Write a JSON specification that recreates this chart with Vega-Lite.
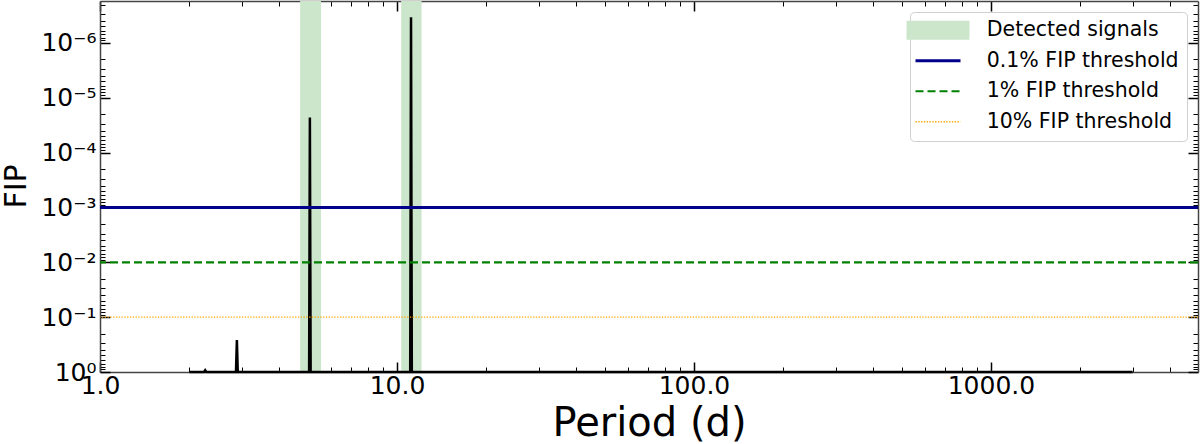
{
  "$schema": "https://vega.github.io/schema/vega-lite/v6.json",
  "width": 1098,
  "height": 371,
  "autosize": {"type": "none"},
  "padding": {"left": 100, "top": 1, "right": 2, "bottom": 72},
  "background": "white",
  "config": {
    "font": "DejaVu Sans",
    "view": {"stroke": null},
    "axis": {
      "labelFont": "DejaVu Sans",
      "titleFont": "DejaVu Sans",
      "labelColor": "black",
      "titleColor": "black",
      "titleFontWeight": "normal",
      "tickColor": "black",
      "domainColor": "#444444",
      "domainWidth": 1.5,
      "grid": false,
      "labelFlush": false,
      "labelOverlap": false,
      "labelFontSize": 25
    },
    "legend": {
      "orient": "top-right",
      "offset": 11,
      "fillColor": "white",
      "strokeColor": "#d0d0d0",
      "cornerRadius": 4,
      "padding": 8,
      "labelFont": "DejaVu Sans",
      "labelFontSize": 20.5,
      "labelColor": "black",
      "symbolSize": 400,
      "symbolStrokeWidth": 1.5,
      "symbolOffset": 9.75,
      "labelOffset": 38.5,
      "rowPadding": 9.5,
      "labelLimit": 400
    }
  },
  "datasets": {
    "pgram": [
      {"period": 2.0, "fip": 1},
      {"period": 2.24, "fip": 1},
      {"period": 2.26, "fip": 0.93},
      {"period": 2.28, "fip": 1},
      {"period": 2.87, "fip": 1},
      {"period": 2.89, "fip": 0.26},
      {"period": 2.91, "fip": 1},
      {"period": 5.06, "fip": 1},
      {"period": 5.09, "fip": 2.3e-5},
      {"period": 5.12, "fip": 1},
      {"period": 11.08, "fip": 1},
      {"period": 11.15, "fip": 3.4e-7},
      {"period": 11.22, "fip": 1},
      {"period": 3000, "fip": 1}
    ],
    "bands": [
      {"label": "Detected signals", "p1": 4.72, "p2": 5.55},
      {"label": "Detected signals", "p1": 10.33, "p2": 12.1}
    ],
    "thresholds": [
      {"label": "0.1% FIP threshold", "fip": 0.001},
      {"label": "1% FIP threshold", "fip": 0.01},
      {"label": "10% FIP threshold", "fip": 0.1}
    ]
  },
  "layer": [
    {
      "data": {"name": "bands"},
      "mark": {"type": "rect"},
      "encoding": {
        "x": {
          "field": "p1", "type": "quantitative",
          "scale": {"type": "log", "domain": [1, 4980], "nice": false},
          "axis": {
            "orient": "top", "title": null, "labels": false,
            "values": [1,2,3,4,5,6,7,8,9,10,20,30,40,50,60,70,80,90,100,200,300,400,500,600,700,800,900,1000,2000,3000,4000],
            "tickSize": {"condition": {"test": "indexof([1,10,100,1000], datum.value) >= 0", "value": -10}, "value": -5},
            "tickWidth": {"condition": {"test": "indexof([1,10,100,1000], datum.value) >= 0", "value": 1.5}, "value": 1}
          }
        },
        "x2": {"field": "p2"},
        "color": {
          "field": "label", "type": "nominal",
          "scale": {
            "domain": ["Detected signals", "0.1% FIP threshold", "1% FIP threshold", "10% FIP threshold"],
            "range": ["#cce6cc", "#00008b", "#008000", "#ffa500"]
          },
          "legend": {
            "title": null,
            "encode": {
              "symbols": {
                "update": {
                  "shape": {"signal": "datum.value === 'Detected signals' ? 'M-3.15,-0.95H3.15V0.95H-3.15Z' : 'M-2.25,0H2.25'"},
                  "fill": {"signal": "datum.value === 'Detected signals' ? '#cce6cc' : 'transparent'"},
                  "stroke": {"signal": "datum.value === 'Detected signals' ? 'transparent' : datum.value === '0.1% FIP threshold' ? '#00008b' : datum.value === '1% FIP threshold' ? '#008000' : '#ffa500'"},
                  "strokeWidth": {"signal": "datum.value === 'Detected signals' ? 0 : datum.value === '0.1% FIP threshold' ? 3 : datum.value === '1% FIP threshold' ? 2 : 1.3"},
                  "strokeDash": {"signal": "datum.value === '1% FIP threshold' ? [8, 4] : datum.value === '10% FIP threshold' ? [1.3, 1.5] : [1, 0]"},
                  "opacity": {"value": 1}
                }
              }
            }
          }
        }
      }
    },
    {
      "data": {"name": "pgram"},
      "mark": {"type": "line", "color": "black", "strokeWidth": 2.5, "interpolate": "linear"},
      "encoding": {
        "x": {
          "field": "period", "type": "quantitative",
          "scale": {"type": "log", "domain": [1, 4980], "nice": false},
          "axis": {
            "orient": "bottom",
            "values": [1,2,3,4,5,6,7,8,9,10,20,30,40,50,60,70,80,90,100,200,300,400,500,600,700,800,900,1000,2000,3000,4000],
            "labelExpr": "indexof([1,10,100,1000], datum.value) >= 0 ? format(datum.value, '.1f') : ''",
            "tickSize": {"condition": {"test": "indexof([1,10,100,1000], datum.value) >= 0", "value": -10}, "value": -5},
            "tickWidth": {"condition": {"test": "indexof([1,10,100,1000], datum.value) >= 0", "value": 1.5}, "value": 1},
            "labelPadding": 11,
            "title": "Period (d)",
            "titleFontSize": 40,
            "titleX": 549,
            "titleY": 63,
            "titleAlign": "center",
            "titleBaseline": "alphabetic"
          }
        },
        "y": {
          "field": "fip", "type": "quantitative",
          "scale": {"type": "log", "domain": [1.72e-7, 1], "reverse": true, "nice": false},
          "axis": {
            "orient": "left",
            "values": [1,0.9,0.8,0.7,0.6,0.5,0.4,0.3,0.2,0.1,0.09,0.08,0.07,0.06,0.05,0.04,0.03,0.02,0.01,0.009,0.008,0.007,0.006,0.005,0.004,0.003,0.002,0.001,0.0009,0.0008,0.0007,0.0006,0.0005,0.0004,0.0003,0.0002,0.0001,9e-5,8e-5,7e-5,6e-5,5e-5,4e-5,3e-5,2e-5,1e-5,9e-6,8e-6,7e-6,6e-6,5e-6,4e-6,3e-6,2e-6,1e-6,9e-7,8e-7,7e-7,6e-7,5e-7,4e-7,3e-7,2e-7],
            "labelExpr": "indexof([1,0.1,0.01,0.001,0.0001,1e-5,1e-6], datum.value) >= 0 ? '10' + ['⁰','⁻¹','⁻²','⁻³','⁻⁴','⁻⁵','⁻⁶'][indexof([1,0.1,0.01,0.001,0.0001,1e-5,1e-6], datum.value)] : ''",
            "tickSize": {"condition": {"test": "indexof([1,0.1,0.01,0.001,0.0001,1e-5,1e-6], datum.value) >= 0", "value": -10}, "value": -5},
            "tickWidth": {"condition": {"test": "indexof([1,0.1,0.01,0.001,0.0001,1e-5,1e-6], datum.value) >= 0", "value": 1.5}, "value": 1},
            "labelPadding": 14,
            "title": "FIP",
            "titleFontSize": 30,
            "titleAngle": 270,
            "titleX": -84,
            "titleY": 185,
            "titleAlign": "center",
            "titleBaseline": "middle"
          }
        }
      }
    },
    {
      "data": {"name": "thresholds"},
      "mark": {"type": "rule"},
      "encoding": {
        "y": {
          "field": "fip", "type": "quantitative",
          "scale": {"type": "log", "domain": [1.72e-7, 1], "reverse": true, "nice": false},
          "axis": {
            "orient": "right", "title": null, "labels": false,
            "values": [1,0.9,0.8,0.7,0.6,0.5,0.4,0.3,0.2,0.1,0.09,0.08,0.07,0.06,0.05,0.04,0.03,0.02,0.01,0.009,0.008,0.007,0.006,0.005,0.004,0.003,0.002,0.001,0.0009,0.0008,0.0007,0.0006,0.0005,0.0004,0.0003,0.0002,0.0001,9e-5,8e-5,7e-5,6e-5,5e-5,4e-5,3e-5,2e-5,1e-5,9e-6,8e-6,7e-6,6e-6,5e-6,4e-6,3e-6,2e-6,1e-6,9e-7,8e-7,7e-7,6e-7,5e-7,4e-7,3e-7,2e-7],
            "tickSize": {"condition": {"test": "indexof([1,0.1,0.01,0.001,0.0001,1e-5,1e-6], datum.value) >= 0", "value": -10}, "value": -5},
            "tickWidth": {"condition": {"test": "indexof([1,0.1,0.01,0.001,0.0001,1e-5,1e-6], datum.value) >= 0", "value": 1.5}, "value": 1}
          }
        },
        "color": {
          "field": "label", "type": "nominal",
          "scale": {
            "domain": ["Detected signals", "0.1% FIP threshold", "1% FIP threshold", "10% FIP threshold"],
            "range": ["#cce6cc", "#00008b", "#008000", "#ffa500"]
          },
          "legend": {"title": null}
        },
        "strokeWidth": {
          "field": "label", "type": "nominal",
          "scale": {
            "domain": ["0.1% FIP threshold", "1% FIP threshold", "10% FIP threshold"],
            "range": [3, 1.3]
          },
          "legend": null
        },
        "strokeDash": {
          "field": "label", "type": "nominal",
          "scale": {
            "domain": ["0.1% FIP threshold", "1% FIP threshold", "10% FIP threshold"],
            "range": [[1, 0], [8, 4], [1.3, 1.5]]
          },
          "legend": null
        }
      }
    }
  ],
  "resolve": {"axis": {"x": "independent", "y": "independent"}}
}
